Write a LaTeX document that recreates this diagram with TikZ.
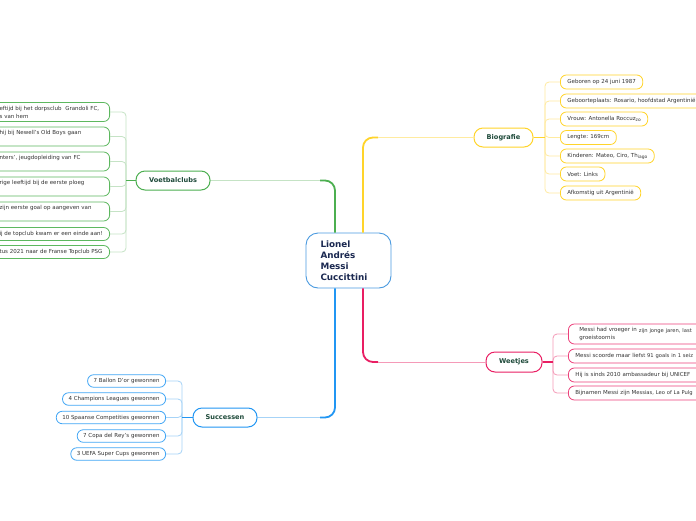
\documentclass[tikz,border=0pt]{standalone}
\usepackage{fontspec}
\setmainfont{DejaVu Sans}
\definecolor{gmain}{HTML}{4CAF50}
\definecolor{glight}{HTML}{C5E3C5}
\definecolor{gbox}{HTML}{5DB85F}
\definecolor{ymain}{HTML}{FFD42A}
\definecolor{ylight}{HTML}{FFEBA0}
\definecolor{bmain}{HTML}{2196F3}
\definecolor{blight}{HTML}{A6D3F7}
\definecolor{pmain}{HTML}{E91E63}
\definecolor{plight}{HTML}{F59AB8}
\definecolor{hdtext}{HTML}{1E4A3A}
\definecolor{chtext}{HTML}{333333}
\definecolor{maintext}{HTML}{1A2850}
\definecolor{mainbd}{HTML}{4A9AE0}
\newcommand{\lowa}[1]{\raisebox{-1.2pt}{\fontsize{4.4}{5}\selectfont #1}}
\newcommand{\lowb}[1]{\raisebox{-0.8pt}{\fontsize{5.2}{6}\selectfont #1}}
\begin{document}
\begin{tikzpicture}[x=1pt,y=-1pt,
  child/.style={draw, rounded corners=6pt, line width=0.8pt, fill=white,
    font=\fontsize{5.5}{8}\selectfont, text=chtext, inner ysep=0pt, align=left},
  hdr/.style={draw, rounded corners=9pt, line width=1pt, fill=white,
    font=\bfseries\fontsize{6.6}{8}\selectfont, text=hdtext, minimum height=19pt, inner sep=0pt},
  vchild/.style={child, draw=gbox, anchor=east, text width=104pt, inner xsep=6pt},
  bchild/.style={child, draw=ymain, anchor=west, inner xsep=7pt, minimum height=14pt},
  wchild/.style={child, draw=pmain!85, anchor=west, inner xsep=7pt, minimum height=14pt, text width=140pt},
  schild/.style={child, draw=bmain!85, anchor=east, inner xsep=6pt, minimum height=12.5pt},
  mainline/.style={line width=1.8pt, rounded corners=10pt},
  subline/.style={line width=0.8pt, rounded corners=4pt},
  stem/.style={line width=1.3pt}
]
\clip (0,0) rectangle (696,520);
\fill[white] (0,0) rectangle (696,520);

% central node
\node[draw=mainbd, line width=0.9pt, rounded corners=12pt, fill=white,
  minimum width=85pt, minimum height=55pt, text width=56pt, align=left,
  font=\bfseries\fontsize{8.8}{11}\selectfont, text=maintext, inner sep=0pt]
  (main) at (348.5,260.5) {Lionel\\Andrés\\Messi\\Cuccittini};

% headers
\node[hdr, draw=gmain, minimum width=74pt] (voet) at (173,180.5) {Voetbalclubs};
\node[hdr, draw=ymain, minimum width=59pt] (bio) at (503.5,137.5) {Biografie};
\node[hdr, draw=pmain, minimum width=56pt, minimum height=20pt] (weet) at (514,362) {Weetjes};
\node[hdr, draw=bmain, minimum width=64pt] (succ) at (225,417.5) {Successen};

% main connectors
\coordinate (gc) at (320,180.5);
\coordinate (yc) at (378,137.5);
\coordinate (bc) at (320,417.5);
\coordinate (pc) at (378,362);
\draw[gmain, mainline] ([xshift=-13.5pt]main.north) |- (gc);
\draw[glight, line width=1pt] (gc) -- (voet.east);
\draw[ymain, mainline] ([xshift=14.5pt]main.north) |- (yc);
\draw[ylight, line width=1pt] (yc) -- (bio.west);
\draw[bmain, mainline] ([xshift=-13.5pt]main.south) |- (bc);
\draw[blight, line width=1pt] (bc) -- (succ.east);
\draw[pmain, mainline] ([xshift=14.5pt]main.south) |- (pc);
\draw[plight, line width=1pt] (pc) -- (weet.west);

% Voetbalclubs children
\node[vchild, minimum height=19pt] (v1) at (110,112) {eftijd bij het dorpsclub\ \ Grandoli FC,\\s van hem};
\node[vchild, minimum height=19pt] (v2) at (110,136.5) {hij bij Newell's Old Boys gaan\\~};
\node[vchild, minimum height=19pt] (v3) at (110,161.5) {nters', jeugdopleiding van FC\\~};
\node[vchild, minimum height=19pt] (v4) at (110,186.5) {rige leeftijd bij de eerste ploeg\\~};
\node[vchild, minimum height=19pt] (v5) at (110,211.5) {zijn eerste goal op aangeven van\\~};
\node[vchild, minimum height=13pt] (v6) at (110,234) {ij de topclub kwam er een einde aan!};
\node[vchild, minimum height=13pt] (v7) at (110,252) {tus 2021 naar de Franse Topclub PSG};
\coordinate (vs) at (126,180.5);
\foreach \n in {v1,v2,v3,v4,v5,v6,v7}{\draw[glight, subline] (vs) |- (\n.east);}
\draw[gmain, stem] (voet.west) -- (vs);

% Biografie children
\node[bchild] (b1) at (560,82) {Geboren op 24 juni 1987};
\node[bchild] (b2) at (560,101) {Geboorteplaats: Rosario, hoofdstad Argentinië};
\node[bchild] (b3) at (560,119) {Vrouw: Antonella Roccuz\lowa{zo}};
\node[bchild] (b4) at (560,137.5) {Lengte: 169cm};
\node[bchild] (b5) at (560,156) {Kinderen: Mateo, Ciro, Th\lowa{iago}};
\node[bchild] (b6) at (560,174) {Voet: Links};
\node[bchild] (b7) at (560,193) {Afkomstig uit Argentinië};
\coordinate (bs) at (545,137.5);
\foreach \n in {b1,b2,b3,b4,b5,b6,b7}{\draw[ylight, subline] (bs) |- (\n.west);}
\draw[ymain, stem] (bio.east) -- (bs);

% Weetjes children
\node[wchild, minimum height=20pt] (w1) at (568,334) {\hspace{4pt}Messi had vroeger in \lowb{zijn jonge jaren, last}\\\hspace{4pt}groeistoornis};
\node[wchild] (w2) at (568,356) {Messi scoorde maar lie\lowb{fst 91 goals in 1 seiz}};
\node[wchild] (w3) at (568,375) {Hij is sinds 2010 ambassadeur bij UNICEF};
\node[wchild] (w4) at (568,393) {Bijnamen Messi zijn M\lowb{essias, Leo of La Pulg}};
\coordinate (ws) at (553,362);
\foreach \n in {w1,w2,w3,w4}{\draw[plight, subline] (ws) |- (\n.west);}
\draw[pmain, stem] (weet.east) -- (ws);

% Successen children
\node[schild] (s1) at (166,381) {7 Ballon D'or gewonnen};
\node[schild] (s2) at (166,399) {4 Champions Leagues gewonnen};
\node[schild] (s3) at (166,417.5) {10 Spaanse Competities gewonnen};
\node[schild] (s4) at (166,436) {7 Copa del Rey's gewonnen};
\node[schild] (s5) at (166,454) {3 UEFA Super Cups gewonnen};
\coordinate (ss) at (182,417.5);
\foreach \n in {s1,s2,s3,s4,s5}{\draw[blight, subline] (ss) |- (\n.east);}
\draw[bmain, stem] (succ.west) -- (ss);
\end{tikzpicture}
\end{document}
